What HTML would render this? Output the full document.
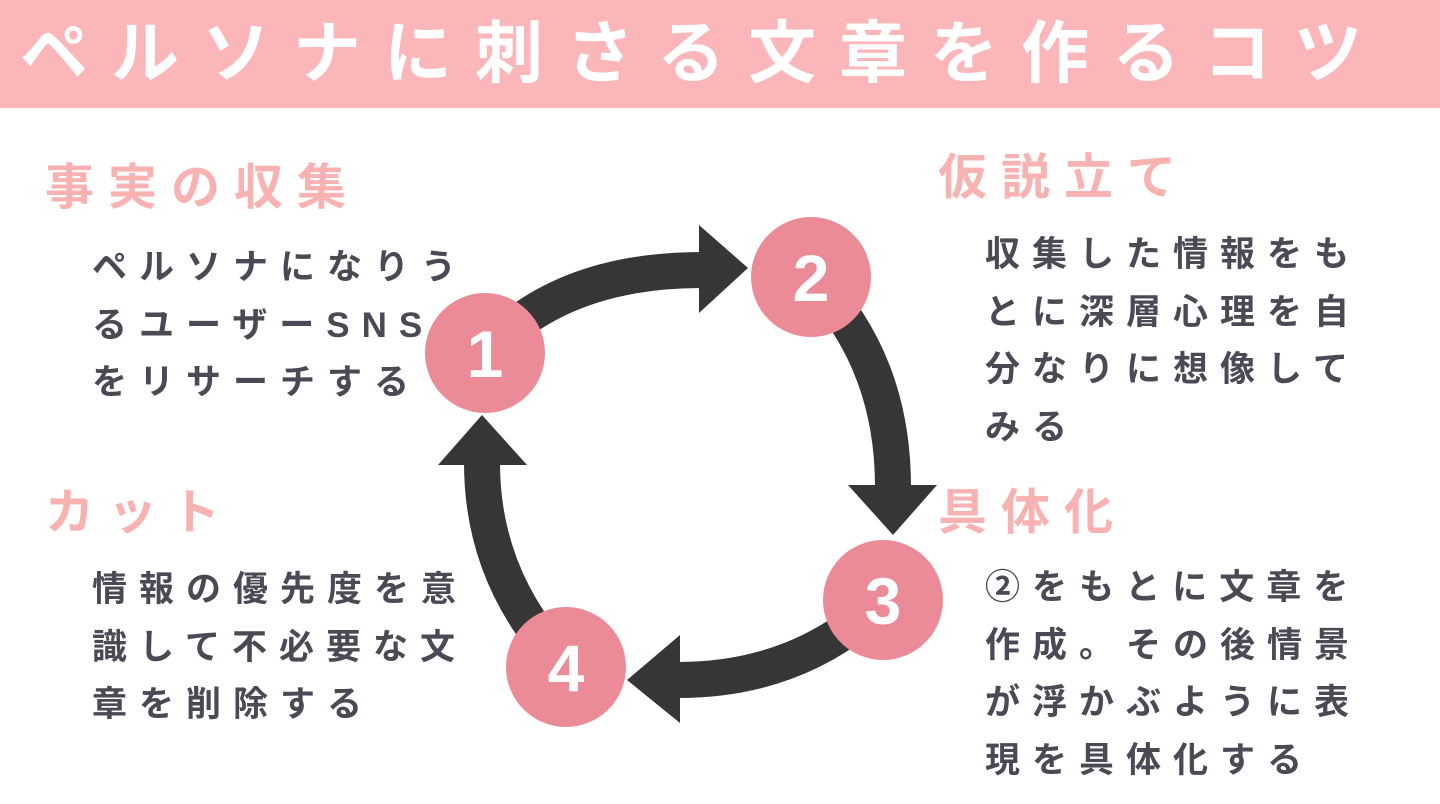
<!DOCTYPE html>
<html><head><meta charset="utf-8"><style>
body{margin:0;width:1440px;height:804px;overflow:hidden;background:#fff;position:relative;font-family:"Liberation Sans","Noto Sans CJK JP",sans-serif;}
.hd{position:absolute;left:0;top:0;width:1440px;height:108px;background:#fbb6b9;}
.ttl{position:absolute;left:20px;top:14px;font-size:68px;line-height:80px;font-weight:bold;color:#fff;letter-spacing:23px;white-space:nowrap;}
.h{position:absolute;font-size:49px;line-height:60px;font-weight:bold;color:#f8b2b2;letter-spacing:14px;white-space:nowrap;}
.b{position:absolute;font-size:35px;line-height:57.5px;font-weight:bold;color:#4a4a55;letter-spacing:12px;white-space:nowrap;}
</style></head><body>
<div class="hd"></div>
<div class="ttl">ペルソナに刺さる文章を作るコツ</div>
<div class="h" style="left:45px;top:158px">事実の収集</div>
<div class="b" style="left:92px;top:239px">ペルソナになりう<br>るユーザーSNS<br>をリサーチする</div>
<div class="h" style="left:938px;top:148px">仮説立て</div>
<div class="b" style="left:985px;top:226px">収集した情報をも<br>とに深層心理を自<br>分なりに想像して<br>みる</div>
<div class="h" style="left:938px;top:483px">具体化</div>
<div class="b" style="left:985px;top:559px">②をもとに文章を<br>作成。その後情景<br>が浮かぶように表<br>現を具体化する</div>
<div class="h" style="left:45px;top:483px">カット</div>
<div class="b" style="left:92px;top:561px">情報の優先度を意<br>識して不必要な文<br>章を削除する</div>
<svg width="1440" height="804" style="position:absolute;left:0;top:0">
<g fill="none" stroke="#363636" stroke-width="36">
<path d="M485,353 Q560,270 702,270"/>
<path d="M811,277 Q893,360 893,487"/>
<path d="M883,600 Q800,680 678,680"/>
<path d="M566,667 Q482,580 482,463"/>
</g>
<g fill="#363636">
<polygon points="699,225 748,268 699,313"/>
<polygon points="848,485 937,485 893,535"/>
<polygon points="680,635 680,723 627,680"/>
<polygon points="438,465 527,465 482,415"/>
</g>
<g fill="#ec8b98">
<circle cx="485" cy="353" r="60"/>
<circle cx="811" cy="277" r="60"/>
<circle cx="883" cy="600" r="60"/>
<circle cx="566" cy="667" r="60"/>
</g>
<g fill="#fff" font-family="Liberation Sans, sans-serif" font-weight="bold" font-size="66" text-anchor="middle">
<text x="485" y="377">1</text>
<text x="811" y="301">2</text>
<text x="883" y="624">3</text>
<text x="566" y="691">4</text>
</g>
</svg>
</body></html>
